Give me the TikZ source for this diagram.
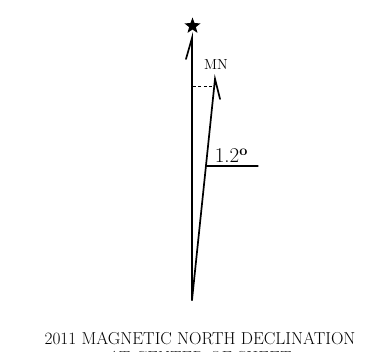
\documentclass[tikz,border=0pt]{standalone}
\usetikzlibrary{shapes.geometric}
\begin{document}
\begin{tikzpicture}[x=1pt,y=-1pt, line width=1.6pt, line cap=round,
  needle/.style={line width=1.7pt},
  guide/.style={line width=1pt, dash pattern=on 3pt off 2.5pt, line cap=butt}]
\useasboundingbox (0,0) rectangle (367,352);
\clip (0,0) rectangle (367,352);
\coordinate (O) at (192,300);
\coordinate (TN) at (192,38);
\coordinate (MNtip) at (215,79);
\coordinate (tnbarb) at (186,59);
\coordinate (mnbarb) at (220,99);
\node[star, star points=5, star point ratio=2.4, fill=black, minimum size=17pt, inner sep=0pt] (st) at (192.5,26) {};
\draw[needle] (O) -- (TN) -- (tnbarb);
\draw[needle] (O) -- (MNtip) -- (mnbarb);
\coordinate (d0) at (192.8,87);
\coordinate (d1) at (214,87);
\draw[guide] (d0) -- (d1);
\node (mn) at (216,65) {\fontsize{14.5}{16}\selectfont MN};
\coordinate (u0) at (206,166);
\coordinate (u1) at (258,166);
\draw[line width=1.3pt] (u0) -- (u1);
\node[anchor=base west, inner sep=0pt] (ang) at (214,163) {\fontsize{21}{23}\selectfont 1.2$^{\mathbf{o}}$};
\node[anchor=base, inner sep=0pt] (t1) at (200,345) {\fontsize{17.3}{19}\selectfont 2011 MAGNETIC NORTH DECLINATION};
\node[anchor=base, inner sep=0pt] (t2) at (200,364) {\fontsize{17.3}{19}\selectfont AT CENTER OF SHEET};
\end{tikzpicture}
\end{document}
